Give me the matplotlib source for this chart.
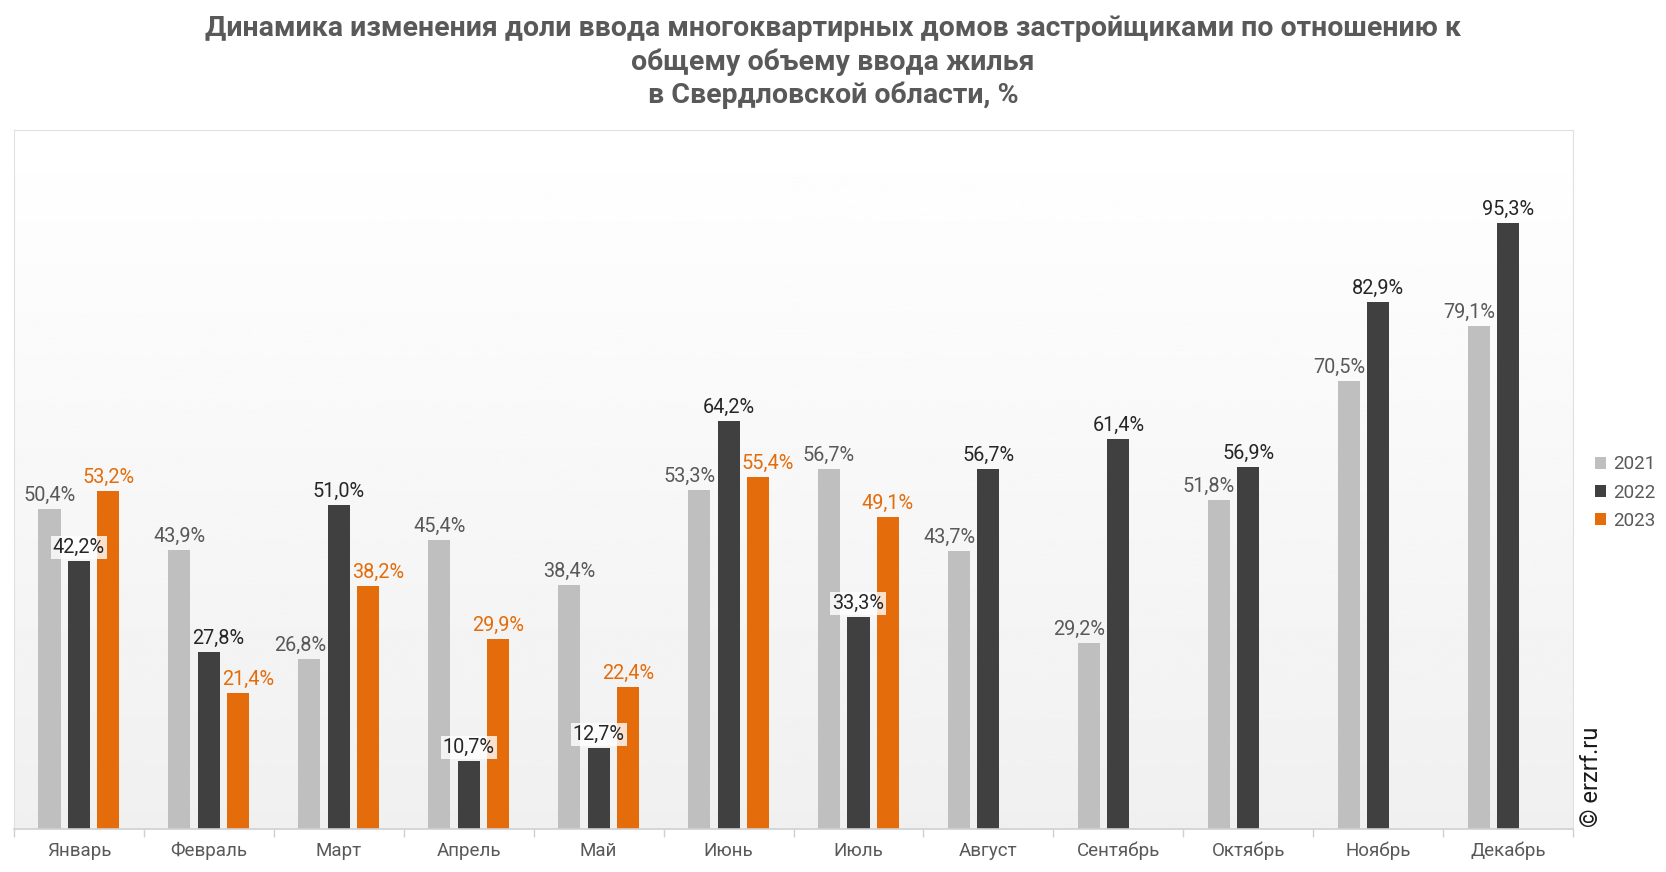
import numpy as np
import matplotlib
matplotlib.use("Agg")
import matplotlib.pyplot as plt

plt.rcParams['font.family'] = ['Roboto', 'DejaVu Sans']

months = ['Январь', 'Февраль', 'Март', 'Апрель', 'Май', 'Июнь', 'Июль',
          'Август', 'Сентябрь', 'Октябрь', 'Ноябрь', 'Декабрь']
v2021 = [50.4, 43.9, 26.8, 45.4, 38.4, 53.3, 56.7, 43.7, 29.2, 51.8, 70.5, 79.1]
v2022 = [42.2, 27.8, 51.0, 10.7, 12.7, 64.2, 33.3, 56.7, 61.4, 56.9, 82.9, 95.3]
v2023 = [53.2, 21.4, 38.2, 29.9, 22.4, 55.4, 49.1, np.nan, np.nan, np.nan, np.nan, np.nan]

series = [
    ('2021', v2021, '#bfbfbf', '#595959'),
    ('2022', v2022, '#404040', '#262626'),
    ('2023', v2023, '#e46c0a', '#e46c0a'),
]

DPI = 100
fig = plt.figure(figsize=(16.66, 8.72), dpi=DPI)
ax = fig.add_axes([0.0084, 0.0493, 0.9358, 0.8017])

x = np.arange(len(months))
width = 0.17
step = 0.227
ymax = 110

# gradient background of the plot area
grad = np.linspace(1.0, 0.94, 256).reshape(-1, 1)
ax.imshow(grad, cmap='gray', vmin=0, vmax=1, aspect='auto',
          extent=[-0.5, len(months) - 0.5, 0, ymax], origin='upper', zorder=0)

bars = {}
labels_ = {}
for i, (name, vals, col, tcol) in enumerate(series):
    pos = x + (i - 1) * step
    rects = ax.bar(pos, vals, width=width, color=col, label=name, zorder=2)
    for m, (r, p, v) in enumerate(zip(rects, pos, vals)):
        bars[(i, m)] = r
        if np.isnan(v):
            continue
        txt = f'{v:.1f}%'.replace('.', ',')
        a = ax.annotate(txt, (p, v), xytext=(0, 3), textcoords='offset points',
                        ha='center', va='bottom', fontsize=14.3, color=tcol, zorder=4)
        labels_[(i, m)] = a

ax.set_xlim(-0.5, len(months) - 0.5)
ax.set_ylim(0, ymax)
ax.set_yticks([])
ax.set_xticks(x)
ax.set_xticklabels(months, fontsize=13.5, color='#595959')
ax.tick_params(axis='x', length=0, pad=9)
# category boundary ticks
ax.set_xticks(np.arange(-0.5, len(months)), minor=True)
ax.tick_params(axis='x', which='minor', length=6, color='#d0d0d0', width=1)

for s in ['top', 'left', 'right']:
    ax.spines[s].set_color('#e0e0e0')
ax.spines['bottom'].set_color('#d0d0d0')
ax.spines['bottom'].set_linewidth(1.2)

# move labels sideways off neighbouring taller bars, like the original
fig.canvas.draw()
rend = fig.canvas.get_renderer()
for (i, m), a in labels_.items():
    bb = a.get_window_extent(rend)
    left_hit = right_hit = None
    for j in (i - 1, i + 1):
        if (j, m) not in bars or np.isnan(bars[(j, m)].get_height()):
            continue
        rb = bars[(j, m)].get_window_extent(rend)
        if rb.x1 > bb.x0 and rb.x0 < bb.x1 and rb.y1 > bb.y0:
            if j < i:
                left_hit = rb
            else:
                right_hit = rb
    if left_hit is not None and right_hit is not None:
        a.set_bbox(dict(boxstyle='square,pad=0.1', fc='white', ec='none', alpha=0.8))
    elif left_hit is not None:
        dx = left_hit.x1 - bb.x0 + 2
        a.set_position((dx * 72 / DPI, 3))
    elif right_hit is not None:
        dx = right_hit.x0 - bb.x1 - 2
        a.set_position((dx * 72 / DPI, 3))

title_lines = ['Динамика изменения доли ввода многоквартирных домов застройщиками по отношению к',
               'общему объему ввода жилья',
               'в Свердловской области, %']
for t, yy in zip(title_lines, [0.967, 0.929, 0.891]):
    fig.text(0.5, yy, t, ha='center', va='center', fontsize=20.5,
             fontweight='bold', color='#595959')

handles, labels = ax.get_legend_handles_labels()
fig.legend(handles, labels, loc='center left', bbox_to_anchor=(0.947, 0.435),
           frameon=False, fontsize=13.5, handlelength=0.6, handleheight=0.6,
           handletextpad=0.4, labelspacing=0.55, labelcolor='#595959')

fig.text(0.955, 0.052, '© erzrf.ru', rotation=90, ha='center', va='bottom',
         fontsize=17, color='#1a1a1a')

fig.savefig('out.png', dpi=DPI)
